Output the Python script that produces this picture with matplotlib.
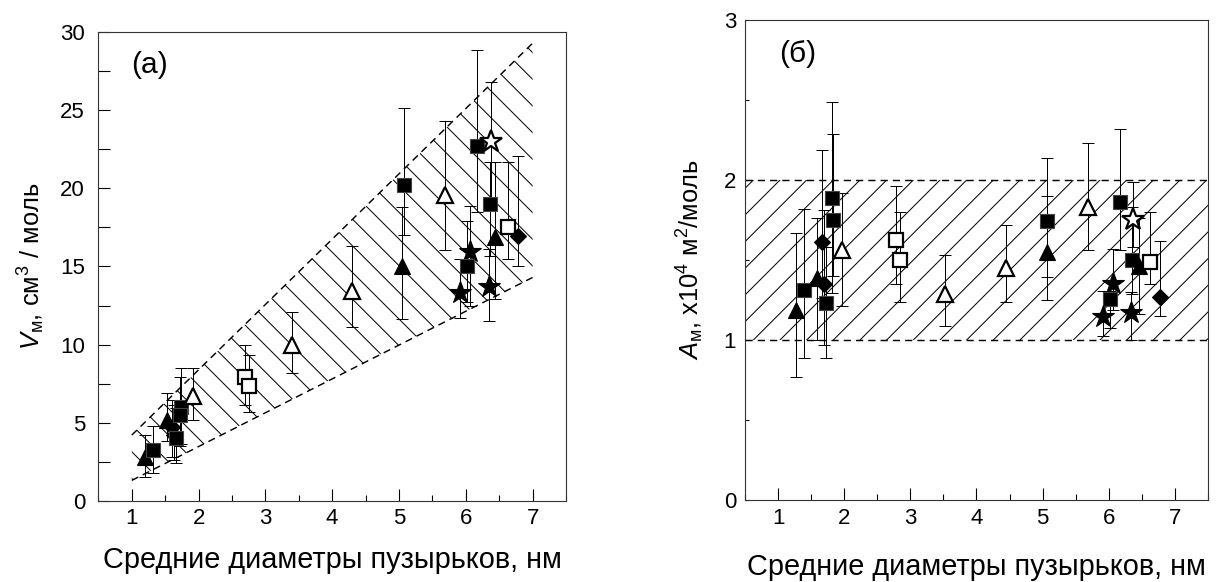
import numpy as np
import matplotlib
matplotlib.use("Agg")
import matplotlib.pyplot as plt
from matplotlib.ticker import MultipleLocator

plt.rcParams['font.family'] = ['Liberation Sans', 'DejaVu Sans']
plt.rcParams['mathtext.fontset'] = 'custom'
plt.rcParams['mathtext.rm'] = 'Liberation Sans'
plt.rcParams['mathtext.it'] = 'Liberation Sans:italic'
plt.rcParams['hatch.linewidth'] = 0.9

# --- panel (а): molar volume V_м vs bubble diameter ---
v_kind = ['tri', 'sq', 'tri', 'dia', 'dia', 'sq', 'sq', 'sq', 'otri',
          'osq', 'osq', 'otri', 'otri',
          'sq', 'tri', 'otri', 'sq', 'ostar', 'sq', 'tri', 'osq', 'dia',
          'star', 'sq', 'star', 'star']
v_x = [1.20, 1.32, 1.53, 1.60, 1.63, 1.66, 1.74, 1.72, 1.91,
       2.70, 2.76, 3.40, 4.29,
       5.07, 5.04, 5.69, 6.17, 6.38, 6.36, 6.44, 6.63, 6.78,
       6.07, 6.02, 5.92, 6.34]
v_y = [2.82, 3.25, 5.2, 4.7, 4.2, 4.04, 6.0, 5.5, 6.7,
       7.95, 7.37, 9.98, 13.4,
       20.2, 15.0, 19.55, 22.7, 23.0, 19.0, 16.9, 17.56, 16.97,
       15.9, 15.0, 13.3, 13.7]
v_lo = [1.32, 1.45, 1.4, 1.9, 1.6, 1.64, 2.4, 2.0, 1.5,
        1.85, 1.67, 1.78, 2.3,
        3.2, 3.35, 3.5, 4.2, 3.8, 3.3, 4.0, 2.06, 1.97,
        3.4, 2.3, 1.6, 2.2]
v_hi = [1.38, 1.55, 1.7, 1.75, 1.9, 1.9, 2.5, 2.4, 1.8,
        2.05, 1.93, 2.12, 2.9,
        4.95, 3.8, 4.75, 6.15, 3.8, 2.7, 4.8, 4.14, 5.13,
        3.0, 2.9, 2.2, 2.4]
# hatched band (а)
v_band_x = [1.0, 7.0]
v_band_lo = [1.3, 14.3]
v_band_hi = [4.2, 29.3]

# --- panel (б): molar area A_м vs bubble diameter ---
a_kind = ['tri', 'sq', 'tri', 'dia', 'dia', 'sq', 'sq', 'sq', 'otri',
          'osq', 'osq', 'otri', 'otri',
          'sq', 'tri', 'otri', 'sq', 'ostar', 'sq', 'tri', 'osq', 'dia',
          'star', 'sq', 'star', 'star']
a_x = [1.27, 1.39, 1.59, 1.67, 1.69, 1.72, 1.82, 1.83, 1.97,
       2.78, 2.84, 3.52, 4.44,
       5.07, 5.06, 5.68, 6.17, 6.36, 6.35, 6.46, 6.63, 6.77,
       6.07, 6.02, 5.91, 6.33]
a_y = [1.19, 1.31, 1.39, 1.61, 1.35, 1.23, 1.886, 1.75, 1.56,
       1.625, 1.50, 1.29, 1.45,
       1.745, 1.55, 1.83, 1.865, 1.75, 1.50, 1.46, 1.49, 1.27,
       1.35, 1.254, 1.146, 1.167]
a_lo = [0.42, 0.42, 0.39, 0.35, 0.38, 0.34, 0.59, 0.35, 0.35,
        0.275, 0.26, 0.20, 0.21,
        0.35, 0.30, 0.27, 0.30, 0.17, 0.21, 0.30, 0.14, 0.12,
        0.16, 0.18, 0.12, 0.17]
a_hi = [0.48, 0.51, 0.37, 0.58, 0.46, 0.35, 0.60, 0.54, 0.36,
        0.335, 0.30, 0.24, 0.27,
        0.39, 0.35, 0.40, 0.455, 0.24, 0.33, 0.30, 0.31, 0.35,
        0.22, 0.05, 0.16, 0.13]
a_band = [1.0, 2.0]

styles = {
    'sq':    dict(marker='s', ms=12, mfc='k', mec='#444444', mew=1.0),
    'osq':   dict(marker='s', ms=12, mfc='w', mec='k', mew=2.0),
    'tri':   dict(marker='^', ms=14, mfc='k', mec='k', mew=1.0),
    'otri':  dict(marker='^', ms=14, mfc='w', mec='k', mew=2.0),
    'dia':   dict(marker='D', ms=10, mfc='k', mec='k', mew=1.0),
    'star':  dict(marker='*', ms=21, mfc='k', mec='k', mew=1.0),
    'ostar': dict(marker='*', ms=21, mfc='w', mec='k', mew=2.0),
}

xlab = 'Средние диаметры пузырьков, нм'

fig = plt.figure(figsize=(1231 / 80, 582 / 80), dpi=80)
ax1 = fig.add_axes([0.0799, 0.1397, 0.3799, 0.8048])
ax2 = fig.add_axes([0.6052, 0.1409, 0.3761, 0.8247])


def draw_points(ax, kind, x, y, lo, hi):
    for k, xi, yi, l, h in zip(kind, x, y, lo, hi):
        ax.errorbar([xi], [yi], yerr=[[l], [h]], fmt='none', ecolor='k',
                    elinewidth=0.9, capsize=5, capthick=0.9, zorder=3)
    for k, xi, yi in zip(kind, x, y):
        ax.plot([xi], [yi], ls='none', zorder=4, **styles[k])


# panel (а)
ax1.fill_between(v_band_x, v_band_lo, v_band_hi, facecolor='none',
                 edgecolor='k', hatch='\\', linewidth=0, zorder=1)
ax1.plot(v_band_x, v_band_lo, 'k', ls=(0, (5, 3.5)), lw=1.3, zorder=2)
ax1.plot(v_band_x, v_band_hi, 'k', ls=(0, (5, 3.5)), lw=1.3, zorder=2)
draw_points(ax1, v_kind, v_x, v_y, v_lo, v_hi)
ax1.set_xlim(0.5, 7.5)
ax1.set_ylim(0, 30)
ax1.yaxis.set_major_locator(MultipleLocator(5))
ax1.yaxis.set_minor_locator(MultipleLocator(2.5))
ax1.tick_params(axis='y', which='both', direction='in', length=11, width=1,
                pad=12, labelsize=20)
ax1.set_ylabel(r'$\mathit{V}_{\mathrm{м}}$, см$^{3}$ / моль', fontsize=23,
               labelpad=12)
ax1.text(1.27, 27.9, '(а)', fontsize=27, ha='center', va='center')

# panel (б)
ax2.axhspan(a_band[0], a_band[1], facecolor='none', edgecolor='k',
            hatch='/', linewidth=0, zorder=1)
for yb in a_band:
    ax2.axhline(yb, color='k', ls=(0, (5, 3.5)), lw=1.3, zorder=2)
draw_points(ax2, a_kind, a_x, a_y, a_lo, a_hi)
ax2.set_xlim(0.5, 7.5)
ax2.set_ylim(0, 3)
ax2.yaxis.set_major_locator(MultipleLocator(1))
ax2.yaxis.set_minor_locator(MultipleLocator(0.5))
ax2.tick_params(axis='y', which='both', direction='in', length=3.5, width=1,
                pad=8, labelsize=20)
ax2.set_ylabel(r'$\mathit{A}_{\mathrm{м}}$, x10$^{4}$ м$^{2}$/моль',
               fontsize=23, labelpad=16)
ax2.text(1.3, 2.79, '(б)', fontsize=27, ha='center', va='center')

for ax in (ax1, ax2):
    ax.xaxis.set_major_locator(MultipleLocator(1))
    ax.xaxis.set_minor_locator(MultipleLocator(0.5))
    ax.tick_params(axis='x', which='major', direction='in', length=11,
                   width=1, pad=7, labelsize=20)
    ax.tick_params(axis='x', which='minor', direction='in', length=5.5,
                   width=1)
    for s in ax.spines.values():
        s.set_linewidth(1.0)
        s.set_color('#333333')
ax1.set_xlabel(xlab, fontsize=26, labelpad=15)
ax2.set_xlabel(xlab, fontsize=26, labelpad=22)

fig.savefig('out.png', dpi=80)
